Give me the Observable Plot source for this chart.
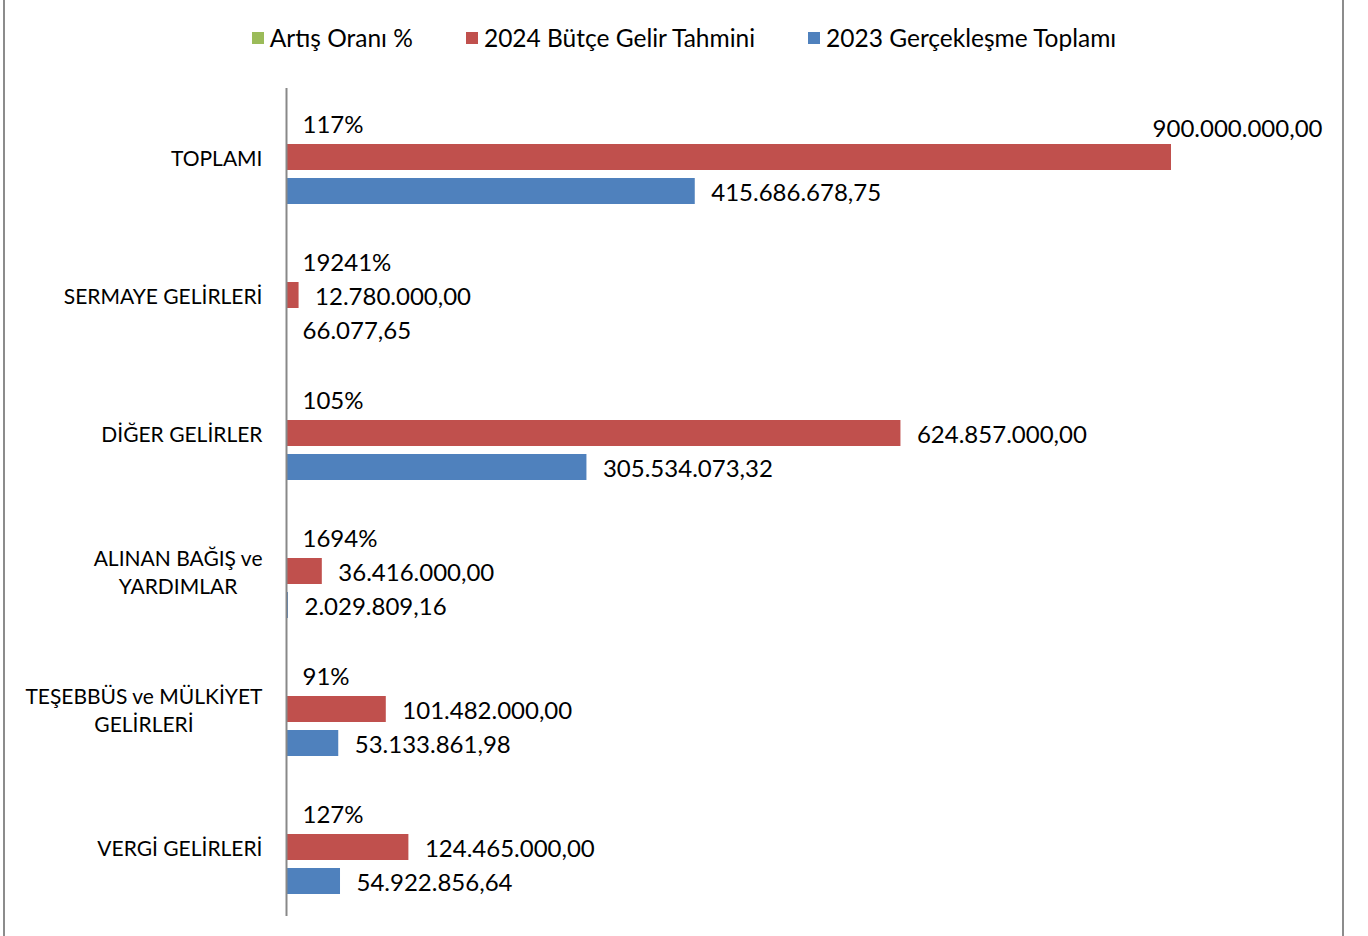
<!DOCTYPE html>
<html>
<head>
<meta charset="utf-8">
<script src="https://cdn.jsdelivr.net/npm/d3@7"></script>
<script src="https://cdn.jsdelivr.net/npm/@observablehq/plot@0.6"></script>
<style>
  html, body { margin: 0; padding: 0; background: #fff; }
  body { width: 1368px; height: 936px; position: relative; overflow: hidden; font-family: Lato, sans-serif; }
  #frame { position: absolute; left: 3px; top: 0; width: 1337px; height: 936px; border-left: 2px solid #8c8c8c; border-right: 2px solid #8c8c8c; pointer-events: none; }
  #legend { height: 70px; box-sizing: border-box; padding-top: 5px; display: flex; justify-content: center; align-items: center; gap: 53px; font-size: 24.5px; color: #000; }
  .item { display: flex; align-items: center; white-space: nowrap; }
  .sw { width: 12px; height: 12px; margin-right: 6px; display: inline-block; }
  #chart svg { display: block; }
</style>
</head>
<body>
<div id="frame"></div>
<div id="legend"></div>
<div id="chart"></div>
<script>
const categories = ["TOPLAMI", "SERMAYE GELİRLERİ", "DİĞER GELİRLER", "ALINAN BAĞIŞ ve\nYARDIMLAR", "TEŞEBBÜS ve MÜLKİYET\nGELİRLERİ", "VERGİ GELİRLERİ"];
const series = ["Artış Oranı %", "2024 Bütçe Gelir Tahmini", "2023 Gerçekleşme Toplamı"];
const colors = ["#9BBB59", "#C0504D", "#4F81BD"];
const artisOrani = [117, 19241, 105, 1694, 91, 127];
const butce2024 = [900000000, 12780000, 624857000, 36416000, 101482000, 124465000];
const gerceklesme2023 = [415686678.75, 66077.65, 305534073.32, 2029809.16, 53133861.98, 54922856.64];

const trFormat = d3.formatLocale({decimal: ",", thousands: ".", grouping: [3], currency: ["", ""]}).format(",.2f");

const data = [];
categories.forEach((c, i) => {
  data.push({category: c, series: series[0], value: artisOrani[i], label: artisOrani[i] + "%"});
  data.push({category: c, series: series[1], value: butce2024[i], label: trFormat(butce2024[i])});
  data.push({category: c, series: series[2], value: gerceklesme2023[i], label: trFormat(gerceklesme2023[i])});
});
const maxVal = d3.max(butce2024);
const isOverflow = d => d.value === maxVal && d.series === series[1];

// legend
const legend = document.getElementById("legend");
series.forEach((s, i) => {
  const it = document.createElement("div");
  it.className = "item";
  it.innerHTML = `<span class="sw" style="background:${colors[i]}"></span><span>${s}</span>`;
  legend.appendChild(it);
});

const chart = Plot.plot({
  width: 1368,
  height: 866,
  marginLeft: 286,
  marginRight: 197,
  marginTop: 18,
  marginBottom: 20,
  style: {fontFamily: "Lato, sans-serif", fontSize: "24px", color: "#000", background: "transparent", overflow: "visible"},
  x: {domain: [0, maxVal], axis: null},
  fy: {domain: categories, padding: 0, label: null},
  y: {domain: series, paddingInner: 0.2286, paddingOuter: 0.586, axis: null},
  color: {domain: series, range: colors},
  marks: [
    Plot.barX(data, {x: "value", y: "series", fy: "category", fill: "series"}),
    Plot.ruleX([0], {stroke: "#888", strokeWidth: 2}),
    Plot.text(data.filter(d => !isOverflow(d)), {x: "value", y: "series", fy: "category", text: "label", dx: 16, dy: 1.5, textAnchor: "start", fill: "#000"}),
    Plot.text(data.filter(isOverflow), {x: "value", y: "series", fy: "category", text: "label", dx: 151, dy: -28, textAnchor: "end", fill: "#000"}),
    Plot.axisFy({anchor: "left", tickSize: 0, tickPadding: 24, label: null, fontSize: 21, lineHeight: 1.33, fill: "#000", textOverflow: null, lineWidth: 100})
  ]
});
document.getElementById("chart").appendChild(chart);

// center multi-line category labels (as in the original)
chart.querySelectorAll('g[aria-label="fy-axis tick label"] text').forEach(t => {
  const spans = t.querySelectorAll("tspan");
  if (spans.length > 1) {
    let w = 0;
    spans.forEach(s => { w = Math.max(w, s.getComputedTextLength()); });
    t.setAttribute("text-anchor", "middle");
    spans.forEach(s => { s.setAttribute("x", -w / 2); s.setAttribute("text-anchor", "middle"); });
  }
});
</script>
</body>
</html>
